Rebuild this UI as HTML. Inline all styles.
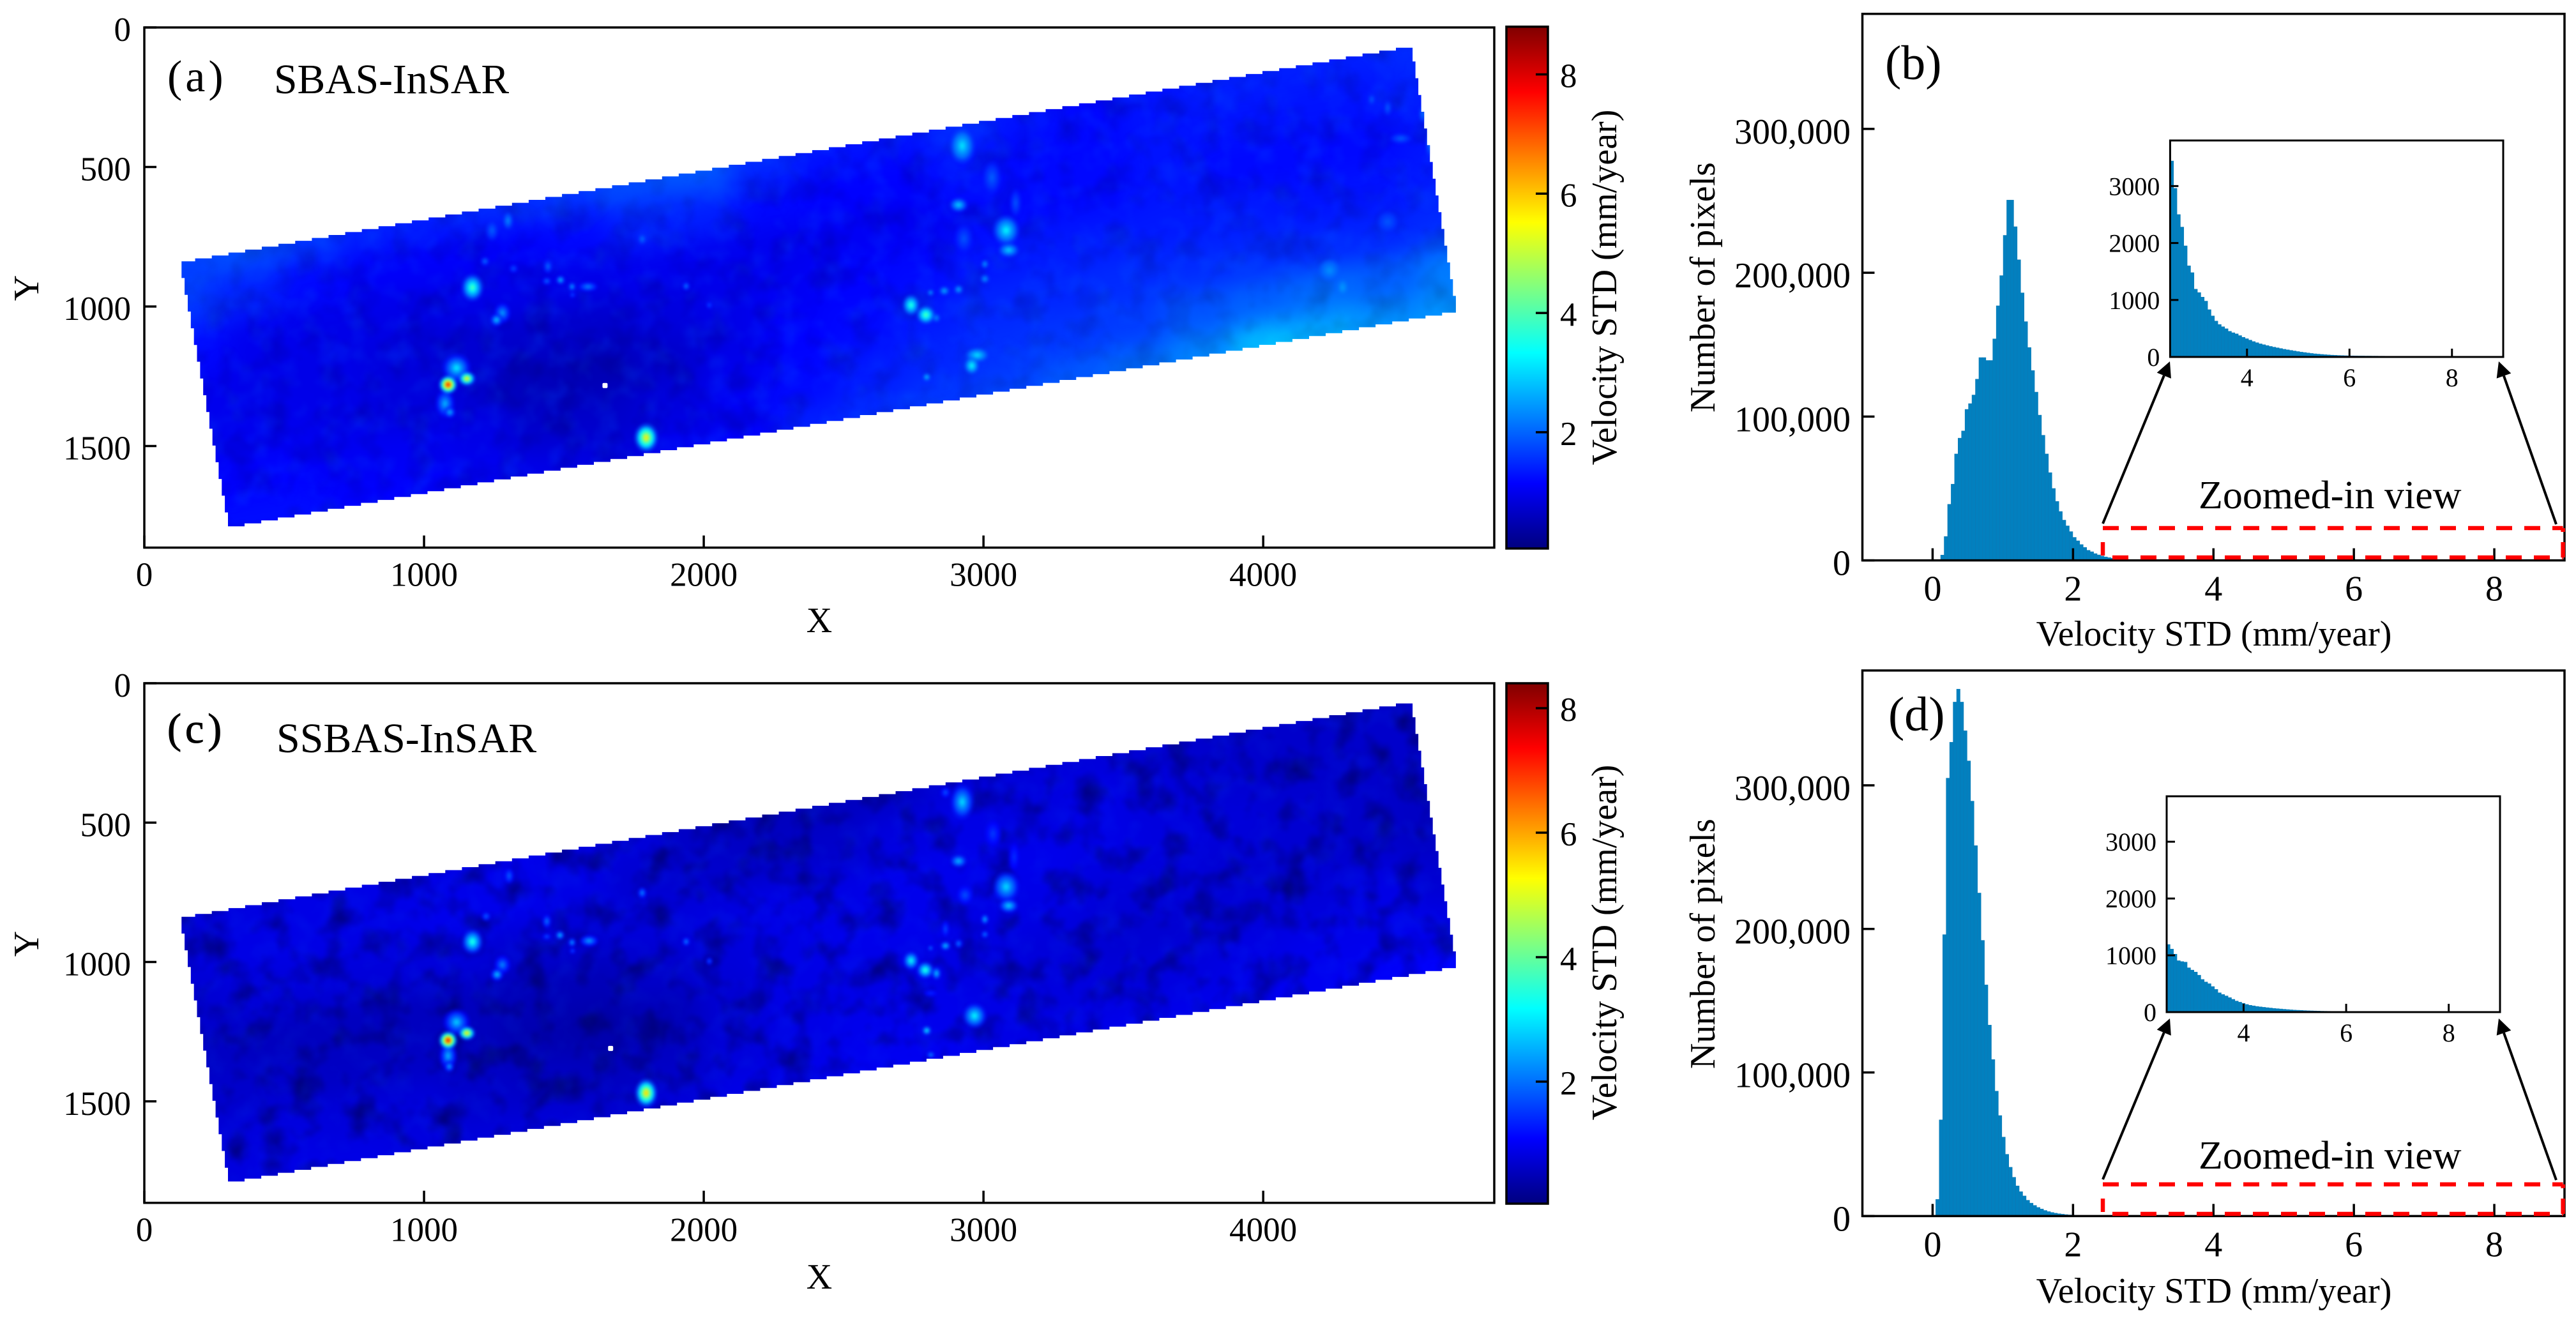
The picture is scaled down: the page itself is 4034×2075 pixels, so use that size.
<!DOCTYPE html>
<html lang="en">
<head>
<meta charset="utf-8">
<title>Velocity STD maps and histograms</title>
<style>
html,body{margin:0;padding:0;background:#fff;}
svg{display:block;}
text{font-family:"Liberation Serif","Times New Roman",serif;fill:#000;}
</style>
</head>
<body>
<svg id="figure" xmlns="http://www.w3.org/2000/svg" width="4034" height="2075" viewBox="0 0 4034 2075">
  <defs>
    <filter id="field-blur" filterUnits="userSpaceOnUse" x="150" y="0" width="2300" height="2075" color-interpolation-filters="sRGB"><feGaussianBlur stdDeviation="20"/></filter>
    <filter id="spot-blur" filterUnits="userSpaceOnUse" x="150" y="0" width="2300" height="2075" color-interpolation-filters="sRGB"><feGaussianBlur stdDeviation="2.4"/></filter>
    <filter id="mottle-dark" x="0" y="0" width="1" height="1" color-interpolation-filters="sRGB">
      <feTurbulence type="fractalNoise" baseFrequency="0.022" numOctaves="3" seed="4"/>
      <feColorMatrix type="matrix" values="0 0 0 0 0  0 0 0 0 0  0 0 0 0 0.1  2.4 0 0 0 -1.12"/>
      <feGaussianBlur stdDeviation="3"/>
    </filter>
    <filter id="mottle-light" x="0" y="0" width="1" height="1" color-interpolation-filters="sRGB">
      <feTurbulence type="fractalNoise" baseFrequency="0.028" numOctaves="3" seed="11"/>
      <feColorMatrix type="matrix" values="0 0 0 0 0  0 0 0 0 0.42  0 0 0 0 1  0 2.4 0 0 -1.12"/>
      <feGaussianBlur stdDeviation="3"/>
    </filter>
  </defs>
  <g id="panel-a"></g>
  <g id="panel-c"></g>
  <g id="panel-b"></g>
  <g id="panel-d"></g>

  <g id="titles">
    <text x="262" y="143" font-size="70" letter-spacing="5">(a)</text>
    <text x="429" y="146" font-size="65.6">SBAS-InSAR</text>
    <text x="1283" y="990" font-size="56" text-anchor="middle">X</text>
    <text transform="translate(60 451) rotate(-90)" font-size="56" text-anchor="middle">Y</text>
    <text transform="translate(2531 450) rotate(-90)" font-size="56" text-anchor="middle">Velocity STD (mm/year)</text>

    <text x="262" y="1163" font-size="66" letter-spacing="6" stroke="#000" stroke-width="1">(c)</text>
    <text x="433" y="1178" font-size="66">SSBAS-InSAR</text>
    <text x="1283" y="2018" font-size="56" text-anchor="middle">X</text>
    <text transform="translate(60 1478) rotate(-90)" font-size="56" text-anchor="middle">Y</text>
    <text transform="translate(2531 1476) rotate(-90)" font-size="56" text-anchor="middle">Velocity STD (mm/year)</text>

    <text x="2952" y="124" font-size="76">(b)</text>
    <text x="3443" y="796" font-size="62">Zoomed-in view</text>
    <text x="3467" y="1011" font-size="56" text-anchor="middle">Velocity STD (mm/year)</text>
    <text transform="translate(2685 450) rotate(-90)" font-size="56" text-anchor="middle">Number of pixels</text>

    <text x="2957" y="1144" font-size="76">(d)</text>
    <text x="3443" y="1830" font-size="62">Zoomed-in view</text>
    <text x="3467" y="2040" font-size="56" text-anchor="middle">Velocity STD (mm/year)</text>
    <text transform="translate(2685 1478) rotate(-90)" font-size="56" text-anchor="middle">Number of pixels</text>
  </g>
</svg>

<script>
// ---------- tick labels ----------
const mapXTicks = [0, 1000, 2000, 3000, 4000];
const mapYTicks = [0, 500, 1000, 1500];
const colorbarTicks = [2, 4, 6, 8];
const histXTicks = [0, 2, 4, 6, 8];
const histYTicks = [0, 100000, 200000, 300000];
const histYTickLabels = ['0', '100,000', '200,000', '300,000'];
const insetXTicks = [4, 6, 8];
const insetYTicks = [0, 1000, 2000, 3000];

// ---------- map footprint corners (data units: TL, TR, BR, BL) ----------
const footprintX = [122, 4534, 4699, 299];
const footprintY = [838, 62, 1022, 1798];

// ---------- background velocity STD sampled along the swath (rows top to bottom) ----------
const fieldA = [
  [1.7,1.8,1.6,1.4,1.4,1.5,1.6,1.8,1.9,1.5,1.3,1.3,1.5,1.3,1.2,1.3,1.4,1.4,1.4,1.5],
  [1.6,1.4,1.2,1.1,1.1,1.1,1.2,1.4,1.4,1.2,1.15,1.15,1.3,1.2,1.2,1.3,1.3,1.3,1.3,1.4],
  [1.2,1.0,0.95,0.95,0.95,0.95,0.95,1.0,1.0,1.0,1.05,1.05,1.2,1.2,1.2,1.3,1.2,1.2,1.2,1.3],
  [1.0,0.95,0.95,0.85,0.75,0.7,0.7,0.85,0.95,1.05,1.15,1.2,1.3,1.35,1.35,1.35,1.35,1.3,1.3,1.35],
  [1.0,1.0,0.95,0.85,0.8,0.55,0.5,0.7,0.95,1.15,1.2,1.35,1.45,1.45,1.5,1.5,1.5,1.45,1.45,1.5],
  [1.15,1.15,1.05,1.05,0.95,0.7,0.7,0.85,1.05,1.2,1.35,1.45,1.55,1.6,1.65,1.85,1.95,2.05,1.95,2.2],
  [1.25,1.25,1.15,1.15,1.05,0.95,0.85,1.05,1.15,1.4,1.5,1.6,1.7,1.9,2.05,2.3,2.8,2.6,2.4,2.4]
];
const fieldC = [
  [0.78,0.83,0.88,0.88,0.88,0.93,0.88,0.78,0.6,0.55,0.55,0.6,0.78,0.78,0.78,0.72,0.66,0.66,0.66,0.66],
  [0.78,0.88,0.88,0.88,0.93,0.93,0.88,0.72,0.66,0.6,0.66,0.82,0.88,0.82,0.88,0.78,0.72,0.66,0.66,0.66],
  [0.72,0.78,0.78,0.78,0.78,0.72,0.72,0.78,0.82,0.88,0.88,0.93,0.93,0.93,0.88,0.82,0.78,0.72,0.66,0.6],
  [0.6,0.55,0.55,0.55,0.55,0.5,0.5,0.66,0.78,0.88,0.93,0.93,0.88,0.88,0.78,0.78,0.72,0.72,0.66,0.6],
  [0.66,0.66,0.6,0.6,0.55,0.44,0.38,0.5,0.72,0.88,0.88,0.88,0.82,0.78,0.72,0.72,0.78,0.78,0.88,0.72],
  [0.78,0.82,0.78,0.78,0.66,0.6,0.55,0.6,0.78,0.88,0.93,0.93,0.88,0.82,0.78,0.82,0.88,0.93,0.93,0.88],
  [0.82,0.88,0.88,0.82,0.78,0.78,0.72,0.78,0.88,0.93,0.98,0.98,0.88,0.88,0.93,0.93,0.98,0.98,1.05,1.1]
];

// ---------- local high-uncertainty spots, panel (a) ----------
const spotAX = [1116,1075,1092,1086,1153,1173,1280,1259,1300,1243,1218,1443,1488,1439,1529,1586,1531,1780,1937,2020,1320,1794,2924,2911,3030,3115,3081,3090,3005,3005,2911,2860,2811,2741,2794,2832,2977,2958,2797,2930,4237,4284,4492,4596,4570,4388,4445,4445];
const spotAY = [1220,1348,1379,1280,1258,932,1023,1048,692,727,838,856,905,909,929,929,958,758,927,995,864,1470,424,636,538,629,727,798,848,901,939,944,950,995,1030,1041,1174,1212,1253,757,871,932,398,417,310,258,288,697];
const spotARx = [44,30,18,28,26,34,26,20,16,20,14,14,14,14,12,32,10,14,12,10,14,36,38,28,28,18,40,32,12,14,14,16,10,26,28,12,36,22,12,28,34,16,34,12,12,12,12,34];
const spotARy = [44,44,18,28,22,42,32,20,28,32,14,22,14,12,14,16,10,18,14,12,14,44,54,22,50,44,46,22,14,14,14,14,10,32,28,14,22,26,12,44,34,24,16,44,28,18,24,34];
const spotAPeak = [3.3,2.8,2.9,8.4,6.2,4.2,2.6,3.1,2.4,2.0,2.2,2.2,3.0,2.2,2.8,2.4,2.0,2.2,2.4,2.0,1.9,6.0,3.2,3.1,2.0,1.9,3.4,3.1,2.6,2.6,2.8,2.8,2.8,3.9,4.3,2.5,3.2,3.5,3.0,1.9,2.4,2.5,2.0,2.4,2.2,2.0,2.0,1.9];

// ---------- local high-uncertainty spots, panel (c) ----------
const spotCX = [1116,1086,1090,1086,1153,1173,1280,1261,1304,1222,1439,1486,1439,1529,1590,1531,1780,1937,2020,1794,2924,2864,2911,3034,3110,3081,3090,3005,3005,2911,2864,2811,2864,2934,2741,2792,2832,2968,2797,2812,2812];
const spotCY = [1216,1337,1375,1281,1255,927,1010,1045,691,836,854,904,909,930,924,960,752,927,997,1470,426,392,638,540,623,730,798,847,901,934,942,950,882,760,995,1029,1041,1193,1246,1333,1112];
const spotCRx = [42,28,16,28,26,32,26,20,14,14,14,14,14,12,30,10,14,12,10,34,36,16,26,26,16,40,30,12,12,12,16,8,12,26,24,26,14,36,14,12,22];
const spotCRy = [42,44,18,28,22,38,30,20,24,14,22,14,10,14,18,10,18,14,12,44,54,18,20,44,44,46,22,16,12,14,14,8,26,30,28,26,20,38,14,10,10];
const spotCPeak = [2.9,2.7,2.7,8.2,6.2,3.7,2.3,3.0,2.0,2.0,2.2,3.0,2.0,2.7,2.6,2.0,2.4,2.4,2.0,6.0,3.0,1.9,2.8,1.6,1.5,3.0,3.0,2.8,2.3,2.3,3.0,2.5,1.8,1.8,3.5,3.8,3.0,3.3,3.4,2.5,1.5];

// ---------- reference points (data units) ----------
const referenceA = [1647, 1283];
const referenceC = [1667, 1310];

// ---------- histogram values ----------
const binWidth = 0.0495;
const histBStart = 0.115;
const histBValues = [3700,16600,39000,53000,74000,85000,90000,105000,109000,115000,126000,141000,141000,139000,139000,154000,177000,198000,226000,250500,250500,232000,209000,186000,166000,148000,132000,117000,101000,87000,74000,61000,50000,41000,34000,28000,24000,20000,16000,13600,11000,9000,7000,6000,4700,3800,3000,2400,1900,1500,1200,1000,800,650,500,400,300,250,200,150];
const histDStart = 0.045;
const histDValues = [11600,67000,196000,305000,330000,358000,367000,358000,338000,317000,289000,258000,225000,192000,161000,133000,109000,87000,70000,55000,43000,34000,27000,21000,17000,14000,11000,9000,7400,6000,4900,3900,3100,2500,2000,1600,1300,1000,800,650,500,400,300,250,200,150,120];
const insetBinWidth = 0.0665;
const insetStart = 2.5;
const insetBValues = [3440,2960,2500,2280,1950,1600,1480,1190,1130,1050,980,830,720,630,570,530,495,450,425,405,375,345,320,295,270,250,230,215,200,185,172,160,148,135,125,115,105,95,85,78,70,62,55,50,45,40,36,32,29,26,24,22,20,19,18,17,17,16,16,15,15,14,14,13,13,12,12,11,11,10,10,10,9,9,9,8,8,8,7,7,7,6,6,6,5,5,5,4,4,4,3,3,3,3,2,2,2,2];
const insetDValues = [1190,1110,1020,905,890,880,780,740,705,650,575,530,500,450,400,340,310,285,255,225,195,175,155,135,120,110,100,92,85,78,72,65,60,55,50,45,40,36,33,30,27,24,22,20,18,16,15,14,13,13,12,12,11,11,10,10,9,9,8,8,8,7,7,7,6,6,6,5,5,5,5,4,4,4,4,3,3,3,3,3,2,2,2,2,2,2,2,1,1,1,1,1,1,1,1,1,1,1];

// ---------- layout ----------
const NS = 'http://www.w3.org/2000/svg';
const BAR_COLOR = '#0280bf';

function el(parent, tag, attrs, text) {
  const node = document.createElementNS(NS, tag);
  for (const k in attrs) node.setAttribute(k, attrs[k]);
  if (text !== undefined) node.textContent = text;
  parent.appendChild(node);
  return node;
}
function linear(d0, d1, r0, r1) {
  return function (v) { return r0 + (v - d0) / (d1 - d0) * (r1 - r0); };
}
function clamp01(v) { return Math.max(0, Math.min(1, v)); }
function jet(t) {
  const r = clamp01(1.5 - Math.abs(4 * t - 3));
  const g = clamp01(1.5 - Math.abs(4 * t - 2));
  const b = clamp01(1.5 - Math.abs(4 * t - 1));
  return 'rgb(' + Math.round(r * 255) + ',' + Math.round(g * 255) + ',' + Math.round(b * 255) + ')';
}
function stairEdge(ax, ay, bx, by, step) {
  const pts = [];
  const dx = bx - ax, dy = by - ay;
  const horizontal = Math.abs(dx) > Math.abs(dy);
  const n = Math.max(1, Math.round((horizontal ? Math.abs(dx) : Math.abs(dy)) / step));
  let px = ax, py = ay;
  for (let k = 1; k <= n; k++) {
    const qx = ax + dx * k / n, qy = ay + dy * k / n;
    if (horizontal) { pts.push([qx, py]); pts.push([qx, qy]); }
    else { pts.push([px, qy]); pts.push([qx, qy]); }
    px = qx; py = qy;
  }
  return pts;
}
// value of a swath field at a data-space location (bilinear over swath nodes)
function fieldAt(field, x, y) {
  const ax = footprintX[1] - footprintX[0], ay = footprintY[1] - footprintY[0];
  const bx = footprintX[3] - footprintX[0], by = footprintY[3] - footprintY[0];
  const px = x - footprintX[0], py = y - footprintY[0];
  const det = ax * by - ay * bx;
  const u = clamp01((px * by - py * bx) / det);
  const v = clamp01((ax * py - ay * px) / det);
  const rows = field.length, cols = field[0].length;
  const fi = u * (cols - 1), fj = v * (rows - 1);
  const i0 = Math.min(cols - 2, Math.floor(fi)), j0 = Math.min(rows - 2, Math.floor(fj));
  const s = fi - i0, t = fj - j0;
  return field[j0][i0] * (1 - s) * (1 - t) + field[j0][i0 + 1] * s * (1 - t) + field[j0 + 1][i0] * (1 - s) * t + field[j0 + 1][i0 + 1] * s * t;
}

function drawMap(cfg) {
  const g = document.getElementById(cfg.id);
  const X = linear(0, 4826, cfg.left, cfg.right);
  const Y = linear(0, 1864, cfg.top, cfg.bottom);
  const norm = linear(cfg.cMin, cfg.cMax, 0, 1);
  const cornersPx = footprintX.map(function (x, i) { return [X(x), Y(footprintY[i])]; });

  // clip with stair-stepped swath outline
  let pts = [];
  for (let i = 0; i < 4; i++) {
    const a = cornersPx[i], b = cornersPx[(i + 1) % 4];
    pts = pts.concat(stairEdge(a[0], a[1], b[0], b[1], 26));
  }
  const clip = el(g, 'clipPath', { id: cfg.id + '-clip' });
  
  
  el(clip, 'polygon', { points: pts.map(function (p) { return p[0].toFixed(1) + ',' + p[1].toFixed(1); }).join(' ') });

  const swath = el(g, 'g', { 'clip-path': 'url(#' + cfg.id + '-clip)' });
  
  

  // background cells placed in the swath coordinate frame
  const cells = el(swath, 'g', { filter: 'url(#field-blur)' });
  
  
  const rows = cfg.field.length, cols = cfg.field[0].length;
  function swathPoint(u, v) {
    const tx = footprintX[0] + u * (footprintX[1] - footprintX[0]) + v * (footprintX[3] - footprintX[0]);
    const ty = footprintY[0] + u * (footprintY[1] - footprintY[0]) + v * (footprintY[3] - footprintY[0]);
    return X(tx).toFixed(1) + ',' + Y(ty).toFixed(1);
  }
  for (let j = 0; j < rows; j++) {
    for (let i = 0; i < cols; i++) {
      const du = 0.5 / (cols - 1), dv = 0.5 / (rows - 1);
      const u = i / (cols - 1), v = j / (rows - 1);
      const u0 = i === 0 ? u - 3 * du : u - du;
      const u1 = i === cols - 1 ? u + 3 * du : u + du;
      const v0 = j === 0 ? v - 3 * dv : v - dv;
      const v1 = j === rows - 1 ? v + 3 * dv : v + dv;
      const color = jet(norm(cfg.field[j][i]));
      const cell = el(cells, 'polygon', {
        points: [swathPoint(u0, v0), swathPoint(u1, v0), swathPoint(u1, v1), swathPoint(u0, v1)].join(' '),
        fill: color, stroke: color, 'stroke-width': 1.5
      });
      
      
    }
  }

  // speckle texture
  const speckleDark = el(swath, 'rect', {
    x: cfg.left, y: cfg.top, width: cfg.right - cfg.left, height: cfg.bottom - cfg.top,
    filter: 'url(#mottle-dark)', opacity: cfg.mottleDark
  });
  
  
  const speckleLight = el(swath, 'rect', {
    x: cfg.left, y: cfg.top, width: cfg.right - cfg.left, height: cfg.bottom - cfg.top,
    filter: 'url(#mottle-light)', opacity: cfg.mottleLight
  });
  
  

  // hot spots as nested contour ellipses rising from the local background
  const spots = el(swath, 'g', { filter: 'url(#spot-blur)' });
  
  
  const fractions = [0.2, 0.35, 0.5, 0.65, 0.8, 0.95];
  const radii = [1.15, 0.9, 0.68, 0.48, 0.3, 0.14];
  const order = cfg.spotPeak.map(function (p, i) { return i; }).sort(function (a, b) { return cfg.spotPeak[a] - cfg.spotPeak[b]; });
  order.forEach(function (idx) {
    const base = fieldAt(cfg.field, cfg.spotX[idx], cfg.spotY[idx]);
    const peak = Math.max(cfg.spotPeak[idx], base + 0.25);
    for (let k = 0; k < fractions.length; k++) {
      const level = base + (peak - base) * fractions[k];
      const ring = el(spots, 'ellipse', {
        cx: X(cfg.spotX[idx]).toFixed(1),
        cy: Y(cfg.spotY[idx]).toFixed(1),
        rx: ((X(cfg.spotRx[idx]) - X(0)) * radii[k]).toFixed(1),
        ry: ((Y(cfg.spotRy[idx]) - Y(0)) * radii[k]).toFixed(1),
        fill: jet(norm(level)),
        'fill-opacity': k === 0 ? 0.6 : 1
      });
      
      
    }
  });

  // reference point
  const dot = el(g, 'rect', { x: X(cfg.reference[0]) - 4, y: Y(cfg.reference[1]) - 4, width: 8, height: 8, rx: 2, fill: '#fff' });
  
  

  // frame
  const frame = el(g, 'rect', { x: cfg.left, y: cfg.top, width: cfg.right - cfg.left, height: cfg.bottom - cfg.top, fill: 'none', stroke: '#000', 'stroke-width': 3.5 });
  
  

  mapXTicks.forEach(function (t) {
    const tick = el(g, 'line', { x1: X(t), x2: X(t), y1: cfg.bottom, y2: cfg.bottom - 19, stroke: '#000', 'stroke-width': 3.5 });
    
    
    const label = el(g, 'text', { x: X(t), y: cfg.bottom + 60, 'font-size': 53, 'text-anchor': 'middle' }, String(t));
    
    
  });
  mapYTicks.forEach(function (t) {
    const tick = el(g, 'line', { x1: cfg.left, x2: cfg.left + 19, y1: Y(t), y2: Y(t), stroke: '#000', 'stroke-width': 3.5 });
    
    
    const label = el(g, 'text', { x: 205, y: Y(t) + 21, 'font-size': 53, 'text-anchor': 'end' }, String(t));
    
    
  });

  // colorbar
  const grad = el(g, 'linearGradient', { id: cfg.id + '-jet', x1: 0, y1: 1, x2: 0, y2: 0 });
  
  
  for (let i = 0; i <= 32; i++) {
    el(grad, 'stop', { offset: i / 32, 'stop-color': jet(i / 32) });
  }
  const bar = el(g, 'rect', { x: 2359, y: cfg.cbTop, width: 65, height: cfg.cbBottom - cfg.cbTop, fill: 'url(#' + cfg.id + '-jet)', stroke: '#000', 'stroke-width': 3.5 });
  
  
  const C = linear(cfg.cMin, cfg.cMax, cfg.cbBottom, cfg.cbTop);
  colorbarTicks.forEach(function (t) {
    const tick = el(g, 'line', { x1: 2424, x2: 2405, y1: C(t), y2: C(t), stroke: '#000', 'stroke-width': 3.5 });
    
    
    const label = el(g, 'text', { x: 2443, y: C(t) + 20, 'font-size': 53 }, String(t));
    
    
  });
}

function drawBars(g, values, start, width, X, Y, baseline) {
  values.forEach(function (v, i) {
    const x0 = X(start + i * width), x1 = X(start + (i + 1) * width);
    const y = Y(v);
    const bar = el(g, 'rect', { x: x0.toFixed(2), y: y.toFixed(2), width: (x1 - x0).toFixed(2), height: Math.max(0, baseline - y).toFixed(2), fill: BAR_COLOR, stroke: '#0b79b5', 'stroke-width': 0.6 });
    
    
  });
}

function drawHistogram(cfg) {
  const g = document.getElementById(cfg.id);
  const X = linear(-1, 9, 2916.5, 4016);
  const Y = linear(0, 380000, cfg.bottom, cfg.top);

  const bars = el(g, 'g', {});
  
  
  drawBars(bars, cfg.values, cfg.start, binWidth, X, Y, cfg.bottom);

  const frame = el(g, 'rect', { x: 2916.5, y: cfg.top, width: 4016 - 2916.5, height: cfg.bottom - cfg.top, fill: 'none', stroke: '#000', 'stroke-width': 3.5 });
  
  

  histXTicks.forEach(function (t) {
    const tick = el(g, 'line', { x1: X(t), x2: X(t), y1: cfg.bottom, y2: cfg.bottom - 19, stroke: '#000', 'stroke-width': 3.5 });
    
    
    const label = el(g, 'text', { x: X(t), y: cfg.bottom + 63, 'font-size': 56, 'text-anchor': 'middle' }, String(t));
    
    
  });
  histYTicks.forEach(function (t, i) {
    const tick = el(g, 'line', { x1: 2916.5, x2: 2935.5, y1: Y(t), y2: Y(t), stroke: '#000', 'stroke-width': 3.5 });
    
    
    const label = el(g, 'text', { x: 2898, y: Y(t) + 23, 'font-size': 56, 'text-anchor': 'end' }, histYTickLabels[i]);
    
    
  });

  // inset
  const inset = el(g, 'g', {});
  
  
  const IX = linear(2.5, 9, cfg.inLeft, cfg.inRight);
  const IY = linear(0, 3800, cfg.inBottom, cfg.inTop);
  const insetBars = el(inset, 'g', {});
  
  
  drawBars(insetBars, cfg.insetValues, insetStart, insetBinWidth, IX, IY, cfg.inBottom);
  const inFrame = el(inset, 'rect', { x: cfg.inLeft, y: cfg.inTop, width: cfg.inRight - cfg.inLeft, height: cfg.inBottom - cfg.inTop, fill: 'none', stroke: '#000', 'stroke-width': 3 });
  
  
  insetXTicks.forEach(function (t) {
    const tick = el(inset, 'line', { x1: IX(t), x2: IX(t), y1: cfg.inBottom, y2: cfg.inBottom - 13, stroke: '#000', 'stroke-width': 3 });
    
    
    const label = el(inset, 'text', { x: IX(t), y: cfg.inBottom + 46, 'font-size': 40, 'text-anchor': 'middle' }, String(t));
    
    
  });
  insetYTicks.forEach(function (t) {
    const tick = el(inset, 'line', { x1: cfg.inLeft, x2: cfg.inLeft + 13, y1: IY(t), y2: IY(t), stroke: '#000', 'stroke-width': 3 });
    
    
    const label = el(inset, 'text', { x: cfg.inLeft - 16, y: IY(t) + 14, 'font-size': 40, 'text-anchor': 'end' }, String(t));
    
    
  });

  // red dashed selection box
  const box = el(g, 'g', { stroke: '#ff0000', 'stroke-width': 6.5, fill: 'none', 'stroke-dasharray': '25 19' });
  
  
  el(box, 'line', { x1: 3293, x2: 4013.6, y1: cfg.boxTop, y2: cfg.boxTop });
  el(box, 'line', { x1: 3308, x2: 4013.6, y1: cfg.boxBottom, y2: cfg.boxBottom });
  el(box, 'line', { x1: 3293, x2: 3293, y1: cfg.boxBottom - 24, y2: cfg.boxBottom - 3, 'stroke-dasharray': 'none' });
  el(box, 'line', { x1: 4013.6, x2: 4013.6, y1: cfg.boxBottom - 24, y2: cfg.boxBottom, 'stroke-dasharray': 'none' });
  el(box, 'line', { x1: 4013.6, x2: 4013.6, y1: cfg.boxTop, y2: cfg.boxTop + 6, 'stroke-dasharray': 'none' });

  // arrows
  [[3293, cfg.arrowStart, 3398, cfg.arrowTip], [4003, cfg.arrowStart + 1, 3913, cfg.arrowTip]].forEach(function (a) {
    const dx = a[2] - a[0], dy = a[3] - a[1], len = Math.hypot(dx, dy);
    const ux = dx / len, uy = dy / len;
    const bx = a[2] - ux * 24, by = a[3] - uy * 24;
    const line = el(g, 'line', { x1: a[0], y1: a[1], x2: bx, y2: by, stroke: '#000', 'stroke-width': 4 });
    
    
    const head = el(g, 'polygon', {
      points: a[2] + ',' + a[3] + ' ' + (bx - uy * 12).toFixed(1) + ',' + (by + ux * 12).toFixed(1) + ' ' + (bx + uy * 12).toFixed(1) + ',' + (by - ux * 12).toFixed(1),
      fill: '#000'
    });
    
    
  });
}

drawMap({
  id: 'panel-a', left: 226, right: 2340, top: 43, bottom: 857.6,
  field: fieldA, spotX: spotAX, spotY: spotAY, spotRx: spotARx, spotRy: spotARy, spotPeak: spotAPeak,
  mottleDark: 0.18, mottleLight: 0.2, reference: referenceA,
  cMin: 0.05, cMax: 8.8, cbTop: 41.8, cbBottom: 859
});
drawMap({
  id: 'panel-c', left: 226, right: 2340, top: 1070, bottom: 1883.7,
  field: fieldC, spotX: spotCX, spotY: spotCY, spotRx: spotCRx, spotRy: spotCRy, spotPeak: spotCPeak,
  mottleDark: 0.45, mottleLight: 0.1, reference: referenceC,
  cMin: 0.04, cMax: 8.4, cbTop: 1070, cbBottom: 1885
});
drawHistogram({
  id: 'panel-b', top: 21.7, bottom: 877.6, values: histBValues, start: histBStart,
  inLeft: 3398.4, inRight: 3920, inTop: 220, inBottom: 559, insetValues: insetBValues,
  boxTop: 827, boxBottom: 873, arrowStart: 820, arrowTip: 566
});
drawHistogram({
  id: 'panel-d', top: 1050, bottom: 1904.4, values: histDValues, start: histDStart,
  inLeft: 3393, inRight: 3915, inTop: 1247, inBottom: 1585, insetValues: insetDValues,
  boxTop: 1854.7, boxBottom: 1901, arrowStart: 1847, arrowTip: 1595
});

// keep letter labels above the bars
const fig = document.getElementById('figure');
fig.appendChild(document.getElementById('titles'));
</script>
</body>
</html>
